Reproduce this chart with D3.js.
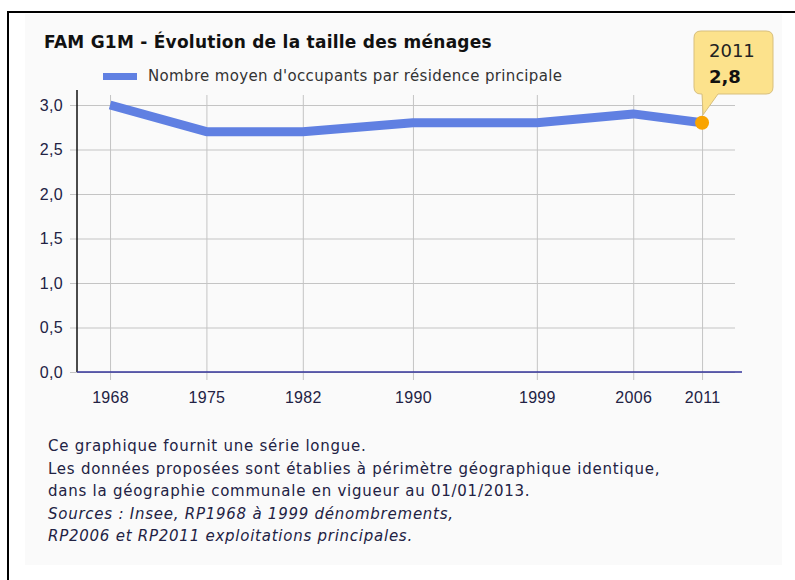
<!DOCTYPE html>
<html lang="fr">
<head>
<meta charset="utf-8">
<title>FAM G1M</title>
<script src="https://cdnjs.cloudflare.com/ajax/libs/d3/7.8.5/d3.min.js"></script>
<style>
  body { margin: 0; background: #fff; }
  svg { display: block; font-family: "DejaVu Sans", Verdana, sans-serif; }
</style>
</head>
<body>
<div id="chart"></div>
<script>
// data
var years = [1968, 1975, 1982, 1990, 1999, 2006, 2011];
var occupants = [3.0, 2.7, 2.7, 2.8, 2.8, 2.9, 2.8];
var yTicks = [0, 0.5, 1, 1.5, 2, 2.5, 3];
var seriesName = "Nombre moyen d'occupants par résidence principale";
var title = "FAM G1M - Évolution de la taille des ménages";
var notes = [
  "Ce graphique fournit une série longue.",
  "Les données proposées sont établies à périmètre géographique identique,",
  "dans la géographie communale en vigueur au 01/01/2013."
];
var sources = [
  "Sources : Insee, RP1968 à 1999 dénombrements,",
  "RP2006 et RP2011 exploitations principales."
];

var W = 795, H = 580;
var svg = d3.select("#chart").append("svg").attr("width", W).attr("height", H);

// frame
svg.append("rect").attr("x", 25).attr("y", 14).attr("width", 757).attr("height", 551).attr("fill", "#fafafa");
svg.append("rect").attr("x", 7).attr("y", 11).attr("width", 2).attr("height", H - 11).attr("fill", "#000");
svg.append("rect").attr("x", 7).attr("y", 11).attr("width", W - 7).attr("height", 2).attr("fill", "#000");

var pLeft = 77, pRight = 742, pTop = 105, pBottom = 372;
var x = d3.scaleLinear().domain([1965.6, 2013.9]).range([pLeft, pRight]);
var y = d3.scaleLinear().domain([0, 3]).range([pBottom, pTop]);
var fmt = function(v) { return d3.format(".1f")(v).replace(".", ","); };

// horizontal grid + y labels
var yAxis = d3.axisLeft(y).tickValues(yTicks).tickSize(-(735 - pLeft)).tickSizeOuter(0).tickPadding(14).tickFormat(fmt);
var gy = svg.append("g").attr("transform", "translate(" + pLeft + ",0)").call(yAxis);
gy.select(".domain").remove();
gy.selectAll(".tick line").attr("stroke", "#c4c4c4").attr("x1", -7);
gy.selectAll(".tick text").attr("font-size", 16).attr("letter-spacing", 0.3).attr("fill", "#222244");

// vertical grid + x labels
var xAxis = d3.axisBottom(x).tickValues(years).tickSize(-(pBottom - 95)).tickSizeOuter(0).tickPadding(20).tickFormat(d3.format("d"));
var gx = svg.append("g").attr("transform", "translate(0," + pBottom + ")").call(xAxis);
gx.select(".domain").remove();
gx.selectAll(".tick line").attr("stroke", "#c4c4c4").attr("y1", 8);
gx.selectAll(".tick text").attr("font-size", 16).attr("letter-spacing", 0.3).attr("fill", "#222244");

// axis lines
svg.append("line").attr("x1", pLeft).attr("x2", pLeft).attr("y1", 90).attr("y2", pBottom).attr("stroke", "#111").attr("stroke-width", 1.5);
svg.append("line").attr("x1", pLeft).attr("x2", pRight).attr("y1", pBottom).attr("y2", pBottom).attr("stroke", "#33339a").attr("stroke-width", 1.5);

// series line
var line = d3.line().x(function(d, i) { return x(years[i]); }).y(function(d) { return y(d); });
svg.append("path").datum(occupants).attr("d", line).attr("fill", "none")
  .attr("stroke", "#6080e2").attr("stroke-width", 9).attr("stroke-linejoin", "round");

// highlighted last point + tooltip
var last = years.length - 1;
var px = x(years[last]), py = y(occupants[last]);
svg.append("circle").attr("cx", px).attr("cy", py).attr("r", 7).attr("fill", "#f9a400");

var bx = 694, by = 31, bw = 79, bh = 63, r = 7;
var tip = "M" + (bx + r) + "," + by +
  " H" + (bx + bw - r) + " Q" + (bx + bw) + "," + by + " " + (bx + bw) + "," + (by + r) +
  " V" + (by + bh - r) + " Q" + (bx + bw) + "," + (by + bh) + " " + (bx + bw - r) + "," + (by + bh) +
  " H" + (bx + 24) + " L" + (px + 1) + "," + (py - 8) + " L" + (bx + 8) + "," + (by + bh) +
  " H" + (bx + r) + " Q" + bx + "," + (by + bh) + " " + bx + "," + (by + bh - r) +
  " V" + (by + r) + " Q" + bx + "," + by + " " + (bx + r) + "," + by + " Z";
svg.append("path").attr("d", tip).attr("fill", "#fce28c").attr("stroke", "#d8bf7c").attr("stroke-width", 1);
svg.append("text").attr("x", bx + 15).attr("y", by + 26).attr("font-size", 18).attr("fill", "#222").text(years[last]);
svg.append("text").attr("x", bx + 15).attr("y", by + 52).attr("font-size", 18).attr("font-weight", "bold").attr("fill", "#111").text(fmt(occupants[last]));

// title + legend
svg.append("text").attr("x", 44).attr("y", 48).attr("font-size", 17).attr("letter-spacing", 0.25)
  .attr("font-weight", "bold").attr("fill", "#111").text(title);
svg.append("rect").attr("x", 103).attr("y", 73).attr("width", 34).attr("height", 7).attr("fill", "#6080e2");
svg.append("text").attr("x", 148).attr("y", 81).attr("font-size", 15).attr("letter-spacing", 0.35)
  .attr("fill", "#333").text(seriesName);

// notes
notes.forEach(function(t, i) {
  svg.append("text").attr("x", 48).attr("y", 451 + i * 22.5).attr("font-size", 15).attr("letter-spacing", 0.75)
    .attr("fill", "#222244").text(t);
});
sources.forEach(function(t, i) {
  svg.append("text").attr("x", 48).attr("y", 451 + (notes.length + i) * 22.5).attr("font-size", 15).attr("letter-spacing", 0.75)
    .attr("font-style", "italic").attr("fill", "#222244").text(t);
});
</script>
</body>
</html>
